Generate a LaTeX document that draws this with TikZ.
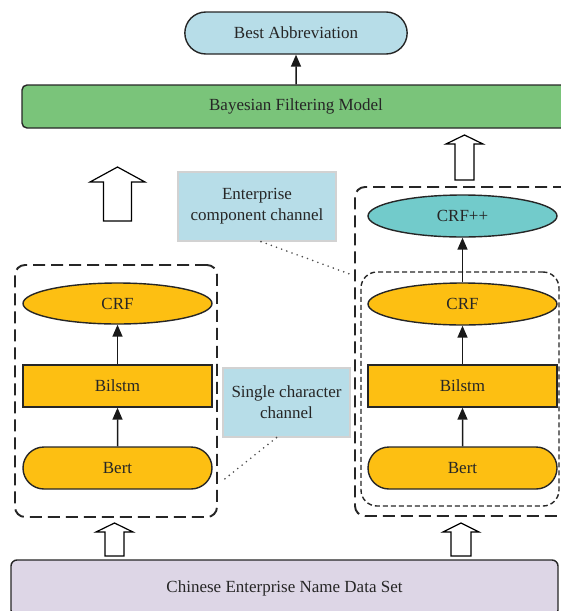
\documentclass[tikz,border=0pt]{standalone}
\usepackage{fontspec}
\setmainfont{Liberation Serif}
\usetikzlibrary{shapes.misc,shapes.geometric,arrows.meta}

\definecolor{boxblue}{HTML}{B7DDE8}
\definecolor{modelgreen}{HTML}{7AC47A}
\definecolor{layerorange}{HTML}{FDBF12}
\definecolor{crfcyan}{HTML}{72CBCB}
\definecolor{setpurple}{HTML}{DDD6E6}

\tikzset{
  layer/.style={draw=black!85, line width=1.4pt, fill=layerorange, minimum width=189pt, minimum height=42pt, inner sep=0pt},
  note/.style={draw=gray!35, line width=1.2pt, fill=boxblue, align=center, inner sep=0pt},
  chanbox/.style={draw=black!85, line width=1.9pt, dash pattern=on 12pt off 6pt, rounded corners=10pt, inner sep=0pt},
  flow/.style={draw=black!90, line width=1.5pt, -{Triangle[length=12pt,width=10pt]}},
  link/.style={draw=black!70, line width=1.8pt, dash pattern=on 0pt off 5.5pt, line cap=round}
}

\begin{document}
\begin{tikzpicture}[x=1pt, y=-1pt, font=\fontsize{17}{21}\selectfont, text=black!85]
    \path[use as bounding box, clip] (0,0) rectangle (561,611);

    % channel frames
    \node[chanbox, minimum width=202pt, minimum height=252pt] (lchan) at (116,391) {};
    \node[chanbox, minimum width=220pt, minimum height=329pt] (rout) at (465,351.5) {};
    \node[chanbox, line width=1.4pt, dash pattern=on 5pt off 3pt, rounded corners=16pt,
          minimum width=198pt, minimum height=234pt] (rin) at (460,389) {};

    % top
    \node[rounded rectangle, draw=black!85, line width=1.4pt, fill=boxblue,
          minimum width=229pt, minimum height=42pt] (best) at (296,33) {Best Abbreviation};
    \node[draw=black!85, line width=1.4pt, fill=modelgreen, rounded corners=5pt,
          minimum width=548pt, minimum height=43pt] (bayes) at (296,106.5) {Bayesian Filtering Model};
    \draw[flow] (bayes) -- (best);

    % single character channel (left)
    \node[layer, ellipse, minimum height=41pt] (crfL) at (117.5,303.5) {CRF};
    \node[layer] (bilstmL) at (117.5,386) {Bilstm};
    \node[layer, rounded rectangle] (bertL) at (117.5,468) {Bert};
    \draw[flow] (bertL) -- (bilstmL);
    \draw[flow] (bilstmL) -- (crfL);

    % enterprise component channel (right)
    \node[layer, ellipse, fill=crfcyan] (crfpp) at (462.5,216) {CRF++};
    \node[layer, ellipse] (crfR) at (462.5,304) {CRF};
    \node[layer] (bilstmR) at (462.5,386) {Bilstm};
    \node[layer, rounded rectangle] (bertR) at (462.5,468) {Bert};
    \draw[flow] (bertR) -- (bilstmR);
    \draw[flow] (bilstmR) -- (crfR);
    \draw[flow] (crfR) -- (crfpp);

    % notes
    \node[note, minimum width=158pt, minimum height=69pt] (ent) at (257,206.5) {Enterprise\\component channel};
    \node[note, minimum width=127pt, minimum height=69pt] (single) at (286.5,402.5) {Single character\\channel};
    \draw[link] ([xshift=-10pt]single.south) -- ([xshift=3pt, yshift=-91pt]lchan.east);
    \draw[link] ([xshift=4pt]ent.south) -- ([xshift=-3pt, yshift=77pt]rout.west);

    % data set
    \node[draw=black!85, line width=1.4pt, fill=setpurple, rounded corners=6pt,
          minimum width=547pt, minimum height=56pt] (data) at (284.5,588) {Chinese Enterprise Name Data Set};

    % hollow arrows
    \foreach \x/\t/\h/\s/\b/\e in {117.5/167/27.5/14/182/221, 464.5/135/18.5/9.5/144/180,
                                    114.5/523/18.5/9.5/532/556, 461/523/18/10/532/556}
        \draw[line width=1.2pt, fill=white] (\x,\t) -- (\x+\h,\b) -- (\x+\s,\b) -- (\x+\s,\e)
            -- (\x-\s,\e) -- (\x-\s,\b) -- (\x-\h,\b) -- cycle;
\end{tikzpicture}
\end{document}
